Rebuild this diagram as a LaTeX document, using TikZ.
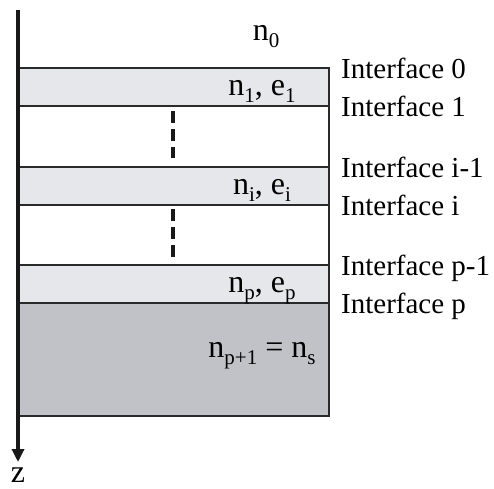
\documentclass[tikz,border=0pt]{standalone}
\usepackage{fontspec}
\setmainfont{Liberation Serif}
\usetikzlibrary{arrows.meta}
\definecolor{layerc}{HTML}{E6E7EA}
\definecolor{subc}{HTML}{C0C2C7}
\definecolor{linec}{HTML}{2A2A2A}
\newcommand\sbx[1]{\raisebox{-7pt}{\fontsize{21}{21}\selectfont #1}}
\begin{document}
\begin{tikzpicture}[x=1pt,y=-1pt,
  layer/.style={draw=linec,line width=2pt},
  lbl/.style={font=\fontsize{32}{32}\selectfont,inner sep=0pt,anchor=base},
  iface/.style={font=\fontsize{29}{29}\selectfont,inner sep=0pt,anchor=base west},
  dots/.style={line width=3.2pt,dash pattern=on 12pt off 6pt,draw=black!90}]
\useasboundingbox (0,0) rectangle (494,488);
% layers
\fill[white] (18,68) rectangle (329,416);
\draw[layer,fill=layerc] (18,68) rectangle (329,106);
\draw[layer,fill=layerc] (18,167) rectangle (329,205);
\draw[layer,fill=layerc] (18,265) rectangle (329,303);
\draw[layer,fill=subc] (18,303) rectangle (329,416);
\draw[layer] (329,106) -- (329,167) (329,205) -- (329,265);
% dashes
\coordinate (d1a) at (173,111); \coordinate (d1b) at (173,158);
\coordinate (d2a) at (173,209); \coordinate (d2b) at (173,258);
\draw[dots] (d1a) -- (d1b);
\draw[dots] (d2a) -- (d2b);
% axis
\coordinate (ztop) at (18,10);
\coordinate (zend) at (18,462);
\draw[line width=3.2pt,draw=black!90,-{Triangle[width=12pt,length=13pt]}] (ztop) -- (zend);
\node[lbl] (z) at (18,482) {z};
% labels
\node[lbl] (n0) at (266,40) {n\sbx{0}};
\node[lbl] (n1) at (262,95) {n\sbx{1}, e\sbx{1}};
\node[lbl] (ni) at (262,194) {n\sbx{i}, e\sbx{i}};
\node[lbl] (np) at (262,292) {n\sbx{p}, e\sbx{p}};
\node[lbl] (ns) at (262,357) {n\sbx{p+1} = n\sbx{s}};
% interfaces
\node[iface] (i0) at (341,78) {Interface 0};
\node[iface] (i1) at (341,116) {Interface 1};
\node[iface] (iim) at (341,177) {Interface i-1};
\node[iface] (ii) at (341,215) {Interface i};
\node[iface] (ipm) at (341,275) {Interface p-1};
\node[iface] (ip) at (341,313) {Interface p};
\end{tikzpicture}
\end{document}
